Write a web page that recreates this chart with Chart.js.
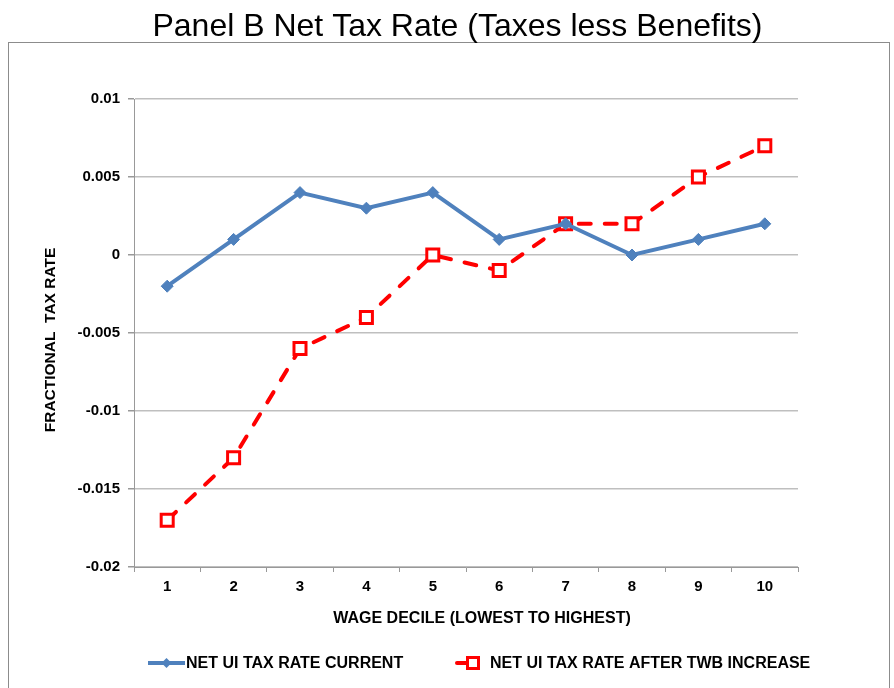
<!DOCTYPE html>
<html>
<head>
<meta charset="utf-8">
<style>
  html, body { margin: 0; padding: 0; background: #fff; }
  #wrap { width: 894px; height: 688px; position: relative; }
</style>
<script src="https://cdn.jsdelivr.net/npm/chart.js@4.4.1/dist/chart.umd.min.js"></script>
</head>
<body>
<div id="wrap"><canvas id="c"></canvas></div>
<script>
// ---- data ----
const categories = ['1', '2', '3', '4', '5', '6', '7', '8', '9', '10'];
const currentRate = [-0.002, 0.001, 0.004, 0.003, 0.004, 0.001, 0.002, 0.000, 0.001, 0.002];
const afterTwbRate = [-0.017, -0.013, -0.006, -0.004, 0.000, -0.001, 0.002, 0.002, 0.005, 0.007];
const yTickLabels = ['-0.02', '-0.015', '-0.01', '-0.005', '0', '0.005', '0.01'];
const seriesLabels = ['NET UI TAX RATE CURRENT', 'NET UI TAX RATE AFTER TWB INCREASE'];
const chartTitle = 'Panel B Net Tax Rate (Taxes less Benefits)';
const xTitle = 'WAGE DECILE (LOWEST TO HIGHEST)';
const yTitle = 'FRACTIONAL  TAX RATE';

const FONT = '"Liberation Sans", Arial, Helvetica, sans-serif';
const BLUE = '#4F81BD';
const RED = '#FF0000';

Chart.defaults.color = '#000';
Chart.defaults.font.family = FONT;

const framePlugin = {
  id: 'frame',
  beforeDraw(chart) {
    const ctx = chart.ctx;
    ctx.save();
    ctx.fillStyle = '#fff';
    ctx.fillRect(0, 0, chart.width, chart.height);
    ctx.strokeStyle = '#8C8C8C';
    ctx.lineWidth = 1;
    ctx.strokeRect(8.5, 42.5, 881, 700);
    ctx.restore();
  }
};

const textPlugin = {
  id: 'texts',
  afterDraw(chart) {
    const ctx = chart.ctx;
    ctx.save();
    ctx.fillStyle = '#000';
    ctx.textAlign = 'center';
    ctx.textBaseline = 'middle';
    // main title
    ctx.font = 'normal 32px ' + FONT;
    ctx.fillText(chartTitle, 457.5, 27);
    // x axis title
    ctx.font = 'bold 16px ' + FONT;
    ctx.fillText(xTitle, 482, 619);
    // y axis title
    ctx.translate(51, 340);
    ctx.rotate(-Math.PI / 2);
    ctx.font = 'bold 15.5px ' + FONT;
    ctx.fillText(yTitle, 0, 0);
    ctx.restore();
  }
};

const legendPlugin = {
  id: 'customLegend',
  afterDraw(chart) {
    const ctx = chart.ctx;
    const y = 663;
    const ds = chart.data.datasets;
    ctx.save();
    ctx.font = 'bold 16px ' + FONT;
    ctx.textBaseline = 'middle';
    ctx.textAlign = 'left';
    // series 1 symbol: solid line with diamond
    ctx.strokeStyle = ds[0].borderColor;
    ctx.lineWidth = 4;
    ctx.lineCap = 'butt';
    ctx.beginPath(); ctx.moveTo(148, y); ctx.lineTo(185, y); ctx.stroke();
    ctx.fillStyle = ds[0].pointBackgroundColor;
    ctx.beginPath();
    ctx.moveTo(166.5 - 5, y); ctx.lineTo(166.5, y - 5); ctx.lineTo(166.5 + 5, y); ctx.lineTo(166.5, y + 5);
    ctx.closePath(); ctx.fill();
    ctx.fillStyle = '#000';
    ctx.fillText(ds[0].label, 186, y + 1);
    // series 2 symbol: dash with hollow square
    ctx.strokeStyle = ds[1].borderColor;
    ctx.lineWidth = 4;
    ctx.lineCap = 'round';
    ctx.beginPath(); ctx.moveTo(457, y); ctx.lineTo(468, y); ctx.stroke();
    ctx.fillStyle = '#fff';
    ctx.lineWidth = 3;
    ctx.beginPath(); ctx.rect(467.5, y - 5.5, 11, 11); ctx.fill(); ctx.stroke();
    ctx.fillStyle = '#000';
    ctx.fillText(ds[1].label, 490, y + 1);
    ctx.restore();
  }
};

new Chart(document.getElementById('c'), {
  type: 'line',
  data: {
    labels: categories,
    datasets: [
      {
        label: seriesLabels[0],
        data: currentRate,
        borderColor: BLUE,
        backgroundColor: BLUE,
        borderWidth: 4,
        tension: 0,
        pointStyle: 'rectRot',
        pointRadius: 6,
        pointHoverRadius: 6,
        pointBackgroundColor: BLUE,
        pointBorderColor: BLUE,
        pointBorderWidth: 1
      },
      {
        label: seriesLabels[1],
        data: afterTwbRate,
        borderColor: RED,
        backgroundColor: RED,
        borderWidth: 4,
        borderDash: [12, 14],
        borderCapStyle: 'round',
        tension: 0,
        pointStyle: 'rect',
        pointRadius: 8.5,
        pointHoverRadius: 8.5,
        pointBackgroundColor: '#fff',
        pointBorderColor: RED,
        pointBorderWidth: 3
      }
    ]
  },
  options: {
    responsive: true,
    maintainAspectRatio: false,
    animation: false,
    events: [],
    layout: { padding: { left: 42, right: 96, top: 99, bottom: 86 } },
    plugins: {
      legend: { display: false },
      tooltip: { enabled: false },
      title: { display: false }
    },
    scales: {
      x: {
        offset: true,
        border: { display: true, color: '#999999', width: 1 },
        grid: {
          display: true,
          offset: true,
          drawOnChartArea: false,
          drawTicks: true,
          tickLength: 5,
          color: '#999999'
        },
        ticks: {
          padding: 6,
          color: '#000',
          font: { family: FONT, size: 15, weight: 'bold', lineHeight: 1.2 },
          maxRotation: 0
        },
        title: { display: false }
      },
      y: {
        min: -0.02,
        max: 0.01,
        border: { display: true, color: '#999999', width: 1 },
        grid: {
          color: '#BFBFBF',
          lineWidth: 1.5,
          tickColor: '#999999',
          tickLength: 6,
          drawTicks: true
        },
        ticks: {
          stepSize: 0.005,
          padding: 8,
          color: '#000',
          font: { family: FONT, size: 15, weight: 'bold', lineHeight: 1.2 },
          callback: (v, i) => yTickLabels[i]
        },
        title: { display: false },
        afterFit: (scale) => { scale.width = 92; }
      }
    }
  },
  plugins: [framePlugin, textPlugin, legendPlugin]
});
</script>
</body>
</html>
